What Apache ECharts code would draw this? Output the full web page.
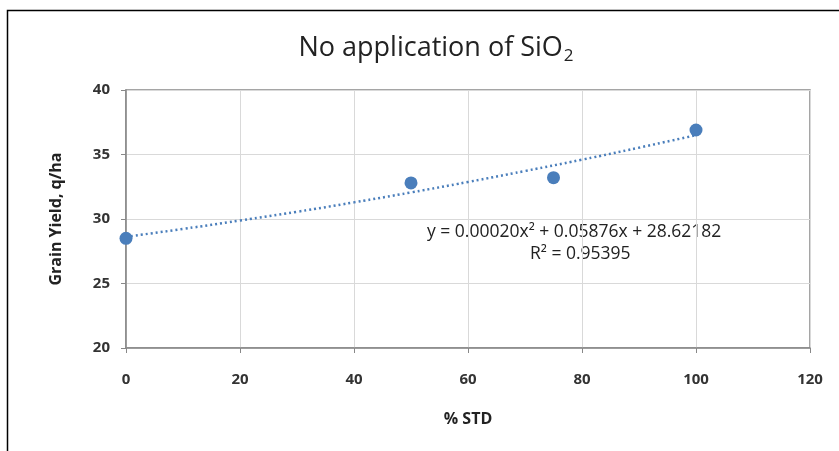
<!DOCTYPE html>
<html>
<head>
    <meta charset="utf-8" />
    <title>No application of SiO2</title>
    <script src="https://cdnjs.cloudflare.com/ajax/libs/echarts/6.0.0/echarts.min.js"></script>
    <style>
        body, html {
            margin: 0;
            padding: 0;
            background: #fff;
        }
        #chart {
            width: 839px;
            height: 451px;
        }
    </style>
</head>
<body>
<div id="chart"></div>
<script type="text/javascript">
    // 观测点 (% STD, q/ha)
    var stdLevels = [0, 50, 75, 100];
    var grainYield = [28.5, 32.8, 33.2, 36.9];

    // 趋势线，从图上读出的值
    var trendX = [0, 10, 20, 30, 40, 50, 60, 70, 80, 90, 100];
    var trendY = [28.62, 29.23, 29.88, 30.56, 31.29, 32.06, 32.87, 33.72, 34.60, 35.53, 36.50];

    var eqLine1 = 'y = 0.00020x² + 0.05876x + 28.62182';
    var eqLine2 = 'R² = 0.95395';

    var blue = '#4a7ebb';
    var font = 'Open Sans, Liberation Sans, sans-serif';

    var chart = echarts.init(document.getElementById('chart'));
    var option = {
        backgroundColor: '#fff',
        animation: false,
        title: {
            text: '{a|No application of SiO}{b|2}',
            left: 431,
            textAlign: 'center',
            top: 27,
            textStyle: {
                rich: {
                    a: { fontSize: 27, fontFamily: font, color: '#222', fontWeight: 'normal' },
                    b: { fontSize: 17, fontFamily: font, color: '#222', fontWeight: 'normal', padding: [16, 0, 0, 1] }
                }
            }
        },
        graphic: [
            {
                type: 'rect',
                shape: { x: 7.5, y: 10.5, width: 900, height: 500 },
                style: { fill: 'none', stroke: '#000', lineWidth: 1.5 },
                silent: true
            },
            {
                type: 'text',
                left: 427,
                top: 223,
                style: { text: eqLine1, fontSize: 17.5, fontFamily: font, fill: '#222' }
            },
            {
                type: 'text',
                left: 530,
                top: 245,
                style: { text: eqLine2, fontSize: 17.5, fontFamily: font, fill: '#222' }
            }
        ],
        grid: {
            left: 126,
            right: 29,
            top: 90,
            bottom: 103,
            show: true,
            borderColor: '#888',
            borderWidth: 1.5
        },
        xAxis: {
            type: 'value',
            min: 0,
            max: 120,
            interval: 20,
            name: '% STD',
            nameLocation: 'middle',
            nameGap: 63,
            nameTextStyle: { fontSize: 16, fontWeight: 'bold', color: '#222', fontFamily: font },
            axisLine: { onZero: false, lineStyle: { color: '#888', width: 1.5 } },
            axisTick: { show: true, length: 5, lineStyle: { color: '#888' } },
            axisLabel: { fontSize: 15, fontWeight: 'bold', color: '#333', fontFamily: font, margin: 24 },
            splitLine: { show: true, lineStyle: { color: '#d9d9d9' } }
        },
        yAxis: {
            type: 'value',
            min: 20,
            max: 40,
            interval: 5,
            name: 'Grain Yield, q/ha',
            nameLocation: 'middle',
            nameGap: 62,
            nameTextStyle: { fontSize: 16, fontWeight: 'bold', color: '#222', fontFamily: font },
            axisLine: { show: true, onZero: false, lineStyle: { color: '#888', width: 1.5 } },
            axisTick: { show: true, length: 5, lineStyle: { color: '#888' } },
            axisLabel: { fontSize: 15, fontWeight: 'bold', color: '#333', fontFamily: font, margin: 16 },
            splitLine: { show: true, lineStyle: { color: '#d9d9d9' } }
        },
        series: [
            {
                name: 'Trend',
                type: 'line',
                data: trendX.map(function (x, i) { return [x, trendY[i]]; }),
                smooth: true,
                showSymbol: false,
                lineStyle: { color: blue, width: 2.5, type: [2, 3] },
                z: 2
            },
            {
                name: 'Grain Yield',
                type: 'scatter',
                data: stdLevels.map(function (x, i) { return [x, grainYield[i]]; }),
                symbolSize: 13,
                itemStyle: { color: blue, opacity: 1 },
                z: 3
            }
        ]
    };
    chart.setOption(option);
</script>
</body>
</html>
